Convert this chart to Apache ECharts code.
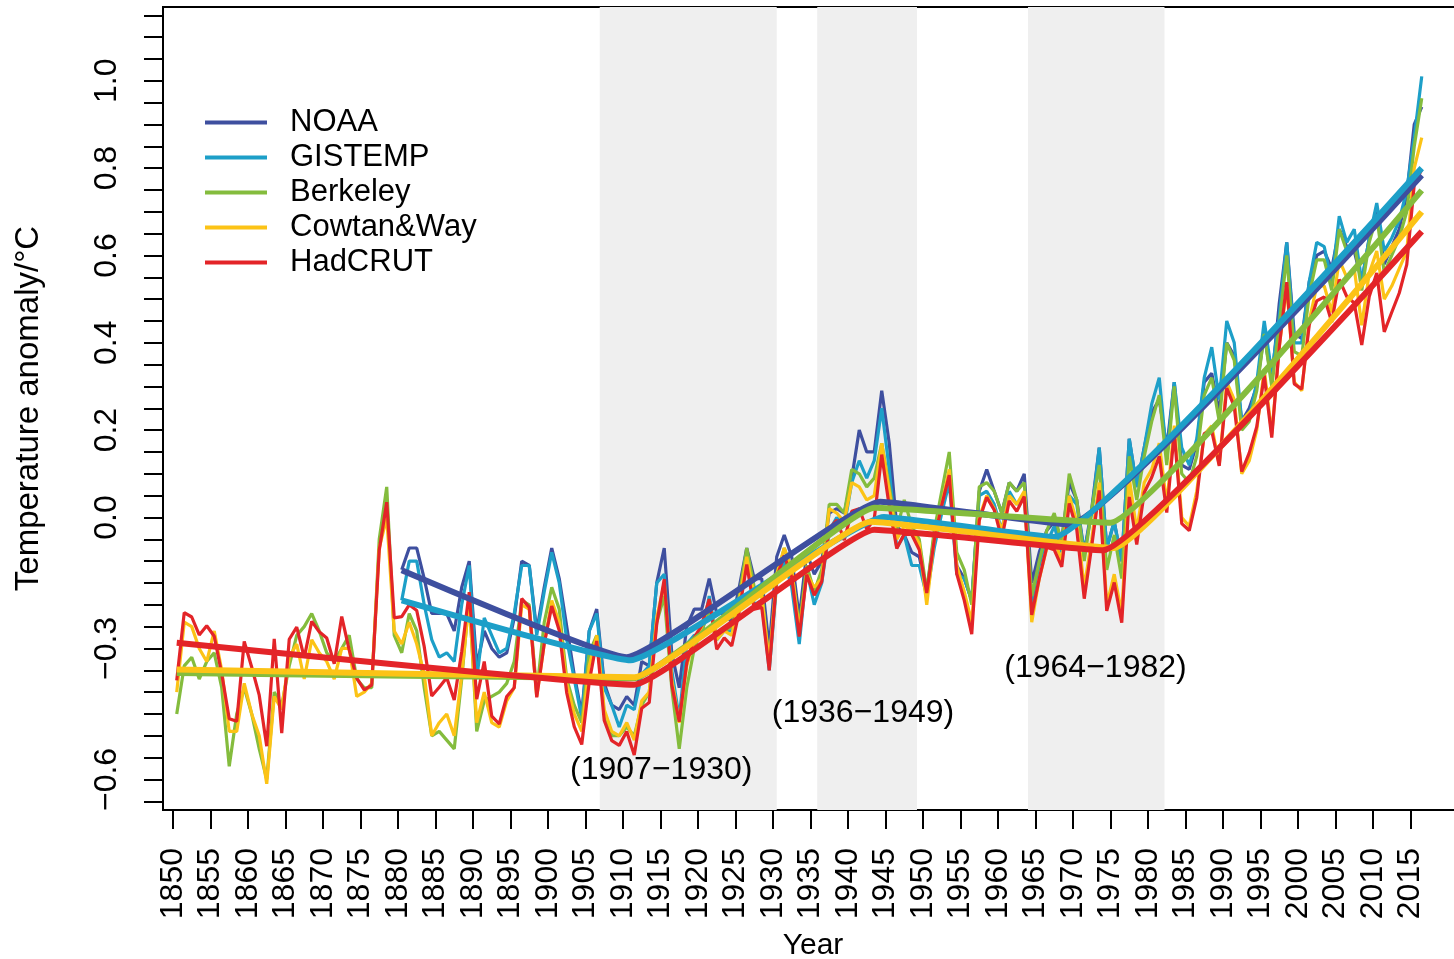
<!DOCTYPE html>
<html>
<head>
<meta charset="utf-8">
<script src="https://cdn.jsdelivr.net/npm/echarts@6/dist/echarts.min.js"></script>
<style>
  html, body { margin: 0; padding: 0; background: #fff; }
  #chart { width: 1454px; height: 959px; }
</style>
</head>
<body>
<div id="chart"></div>
<script>
// annual anomalies, values
const firstYearLong = 1850   // Berkeley, Cowtan&Way, HadCRUT
const firstYearShort = 1880  // NOAA, GISTEMP

const noaa = [
  -0.12, -0.07, -0.07, -0.14, -0.22, -0.22, -0.22, -0.26, -0.16, -0.10,
  -0.34, -0.26, -0.30, -0.32, -0.31, -0.23, -0.10, -0.11, -0.26, -0.16,
  -0.07, -0.14, -0.25, -0.36, -0.45, -0.26, -0.21, -0.38, -0.43, -0.44,
  -0.41, -0.43, -0.33, -0.34, -0.15, -0.07, -0.31, -0.39, -0.25, -0.21,
  -0.21, -0.14, -0.22, -0.22, -0.24, -0.16, -0.07, -0.14, -0.14, -0.30,
  -0.09, -0.04, -0.09, -0.23, -0.08, -0.13, -0.10, 0.01, 0.02, 0.01,
  0.09, 0.20, 0.15, 0.15, 0.29, 0.17, -0.02, -0.04, -0.08, -0.09,
  -0.17, -0.04, 0.03, 0.10, -0.11, -0.14, -0.19, 0.06, 0.11, 0.06,
  0.01, 0.08, 0.06, 0.10, -0.15, -0.08, -0.03, -0.01, -0.05, 0.08,
  0.04, -0.08, 0.02, 0.16, -0.07, -0.01, -0.10, 0.18, 0.07, 0.16,
  0.24, 0.27, 0.16, 0.31, 0.12, 0.11, 0.17, 0.31, 0.33, 0.24,
  0.40, 0.37, 0.22, 0.25, 0.30, 0.42, 0.31, 0.49, 0.63, 0.42,
  0.41, 0.54, 0.60, 0.61, 0.57, 0.66, 0.62, 0.61, 0.54, 0.64,
  0.70, 0.58, 0.62, 0.66, 0.74, 0.90, 0.94
]

const gistemp = [
  -0.19, -0.10, -0.10, -0.20, -0.28, -0.32, -0.31, -0.33, -0.20, -0.11,
  -0.37, -0.23, -0.27, -0.31, -0.30, -0.22, -0.11, -0.11, -0.27, -0.17,
  -0.08, -0.15, -0.28, -0.37, -0.46, -0.26, -0.22, -0.39, -0.43, -0.48,
  -0.43, -0.44, -0.36, -0.34, -0.15, -0.13, -0.35, -0.46, -0.29, -0.27,
  -0.27, -0.18, -0.28, -0.26, -0.26, -0.21, -0.09, -0.20, -0.19, -0.35,
  -0.15, -0.10, -0.16, -0.29, -0.12, -0.20, -0.15, -0.03, 0.00, -0.02,
  0.08, 0.13, 0.09, 0.13, 0.25, 0.11, -0.07, -0.04, -0.11, -0.11,
  -0.18, -0.07, 0.01, 0.08, -0.13, -0.14, -0.19, 0.05, 0.06, 0.03,
  -0.03, 0.06, 0.03, 0.05, -0.20, -0.11, -0.06, -0.02, -0.08, 0.05,
  0.03, -0.08, 0.01, 0.16, -0.07, -0.01, -0.10, 0.18, 0.07, 0.16,
  0.26, 0.32, 0.14, 0.31, 0.16, 0.12, 0.18, 0.32, 0.39, 0.27,
  0.45, 0.40, 0.22, 0.23, 0.31, 0.45, 0.33, 0.46, 0.63, 0.40,
  0.40, 0.54, 0.63, 0.62, 0.54, 0.69, 0.63, 0.66, 0.54, 0.64,
  0.72, 0.61, 0.64, 0.68, 0.75, 0.87, 1.01
]

const berkeley = [
  -0.45, -0.34, -0.32, -0.37, -0.33, -0.31, -0.39, -0.57, -0.45, -0.39,
  -0.45, -0.53, -0.60, -0.40, -0.43, -0.34, -0.27, -0.25, -0.22, -0.26,
  -0.31, -0.33, -0.30, -0.27, -0.37, -0.39, -0.39, -0.05, 0.07, -0.27,
  -0.31, -0.22, -0.26, -0.39, -0.50, -0.49, -0.51, -0.53, -0.37, -0.18,
  -0.49, -0.42, -0.41, -0.40, -0.38, -0.33, -0.19, -0.20, -0.40, -0.24,
  -0.16, -0.21, -0.37, -0.43, -0.47, -0.31, -0.27, -0.45, -0.50, -0.50,
  -0.48, -0.50, -0.43, -0.40, -0.24, -0.18, -0.39, -0.53, -0.39, -0.30,
  -0.26, -0.21, -0.27, -0.26, -0.25, -0.18, -0.07, -0.16, -0.17, -0.34,
  -0.14, -0.07, -0.12, -0.25, -0.11, -0.17, -0.12, 0.03, 0.03, 0.01,
  0.11, 0.10, 0.07, 0.09, 0.17, 0.07, -0.03, 0.04, -0.02, -0.05,
  -0.17, -0.03, 0.06, 0.15, -0.08, -0.12, -0.20, 0.07, 0.08, 0.06,
  0.01, 0.08, 0.06, 0.08, -0.18, -0.10, -0.03, 0.01, -0.06, 0.10,
  0.04, -0.10, 0.02, 0.12, -0.12, -0.04, -0.14, 0.14, 0.04, 0.14,
  0.22, 0.28, 0.12, 0.30, 0.10, 0.08, 0.14, 0.28, 0.32, 0.22,
  0.40, 0.36, 0.20, 0.22, 0.29, 0.42, 0.30, 0.44, 0.60, 0.38,
  0.37, 0.51, 0.59, 0.59, 0.52, 0.66, 0.61, 0.63, 0.52, 0.63,
  0.69, 0.56, 0.60, 0.64, 0.70, 0.85, 0.96
]

const cowtan = [
  -0.40, -0.24, -0.25, -0.30, -0.33, -0.26, -0.35, -0.49, -0.49, -0.38,
  -0.45, -0.50, -0.61, -0.41, -0.44, -0.32, -0.29, -0.37, -0.28, -0.31,
  -0.33, -0.37, -0.30, -0.30, -0.41, -0.40, -0.38, -0.07, 0.00, -0.26,
  -0.29, -0.24, -0.29, -0.36, -0.50, -0.47, -0.45, -0.50, -0.36, -0.19,
  -0.47, -0.40, -0.47, -0.48, -0.42, -0.39, -0.20, -0.21, -0.41, -0.29,
  -0.19, -0.24, -0.38, -0.45, -0.49, -0.34, -0.27, -0.44, -0.49, -0.50,
  -0.47, -0.51, -0.42, -0.40, -0.23, -0.15, -0.37, -0.47, -0.34, -0.28,
  -0.25, -0.19, -0.28, -0.26, -0.27, -0.19, -0.09, -0.18, -0.18, -0.33,
  -0.13, -0.07, -0.12, -0.26, -0.13, -0.16, -0.14, 0.02, 0.01, -0.01,
  0.08, 0.07, 0.04, 0.05, 0.17, 0.06, -0.05, -0.02, -0.03, -0.06,
  -0.20, -0.05, 0.03, 0.11, -0.11, -0.17, -0.24, 0.00, 0.05, 0.02,
  -0.03, 0.05, 0.03, 0.06, -0.24, -0.14, -0.07, -0.05, -0.10, 0.05,
  -0.01, -0.16, -0.05, 0.08, -0.20, -0.13, -0.22, 0.09, -0.03, 0.08,
  0.11, 0.17, 0.03, 0.21, 0.00, -0.02, 0.06, 0.19, 0.21, 0.12,
  0.31, 0.27, 0.10, 0.13, 0.20, 0.34, 0.19, 0.39, 0.53, 0.31,
  0.29, 0.45, 0.53, 0.53, 0.47, 0.59, 0.55, 0.57, 0.44, 0.56,
  0.61, 0.50, 0.53, 0.57, 0.61, 0.80, 0.87
]

const hadcrut = [
  -0.373, -0.218, -0.228, -0.269, -0.248, -0.272, -0.358, -0.461, -0.467, -0.284,
  -0.343, -0.407, -0.524, -0.278, -0.494, -0.279, -0.251, -0.321, -0.238, -0.262,
  -0.276, -0.335, -0.227, -0.304, -0.368, -0.395, -0.384, -0.075, 0.035, -0.230,
  -0.227, -0.200, -0.213, -0.296, -0.409, -0.389, -0.367, -0.418, -0.307, -0.171,
  -0.416, -0.330, -0.455, -0.473, -0.410, -0.390, -0.186, -0.206, -0.412, -0.289,
  -0.203, -0.259, -0.402, -0.479, -0.520, -0.377, -0.283, -0.465, -0.511, -0.522,
  -0.490, -0.544, -0.437, -0.424, -0.244, -0.141, -0.383, -0.468, -0.333, -0.275,
  -0.247, -0.187, -0.302, -0.276, -0.294, -0.215, -0.108, -0.210, -0.206, -0.350,
  -0.137, -0.087, -0.137, -0.273, -0.131, -0.178, -0.147, -0.026, -0.006, -0.052,
  0.014, 0.020, -0.027, -0.004, 0.144, 0.025, -0.071, -0.038, -0.039, -0.074,
  -0.173, -0.052, 0.028, 0.097, -0.129, -0.190, -0.267, -0.007, 0.046, 0.017,
  -0.049, 0.038, 0.014, 0.048, -0.223, -0.140, -0.068, -0.074, -0.113, 0.032,
  -0.027, -0.186, -0.065, 0.062, -0.214, -0.149, -0.241, 0.047, -0.062, 0.057,
  0.092, 0.140, 0.011, 0.194, -0.014, -0.030, 0.045, 0.192, 0.198, 0.118,
  0.296, 0.254, 0.105, 0.148, 0.208, 0.325, 0.183, 0.390, 0.539, 0.306,
  0.294, 0.441, 0.496, 0.505, 0.447, 0.545, 0.506, 0.491, 0.395, 0.506,
  0.560, 0.425, 0.470, 0.514, 0.579, 0.763, 0.797
]

// trends: [time, anomaly] at the change points
const noaaTrend = [[1880.5, -0.121], [1910.5, -0.320], [1944.3, 0.036], [1969.5, -0.016], [2016.5, 0.784]]
const gistempTrend = [[1880.5, -0.190], [1911.0, -0.327], [1944.8, 0.001], [1967.5, -0.045], [2016.5, 0.800]]
const berkeleyTrend = [[1850.5, -0.356], [1911.5, -0.368], [1943.5, 0.022], [1975.0, -0.012], [2016.5, 0.749]]
const cowtanTrend = [[1850.5, -0.348], [1911.5, -0.366], [1943.0, -0.010], [1975.5, -0.070], [2016.5, 0.700]]
const hadcrutTrend = [[1850.5, -0.287], [1911.5, -0.383], [1943.5, -0.028], [1974.0, -0.075], [2016.5, 0.655]]

const names = ['NOAA', 'GISTEMP', 'Berkeley', 'Cowtan&Way', 'HadCRUT']
const colors = ['#3e4f9f', '#1d9fc8', '#84bc3d', '#fcc316', '#e32428']

// change point ranges
const bands = [[1906.9, 1930.5], [1935.9, 1949.2], [1964.0, 1982.2]]
const bandLabels = ['(1907\u22121930)', '(1936\u22121949)', '(1964\u22121982)']
const bandLabelPos = [[1915.1, -0.579], [1942.0, -0.448], [1973.0, -0.345]]

const xTickYears = [1850, 1855, 1860, 1865, 1870, 1875, 1880, 1885, 1890, 1895, 1900, 1905,
  1910, 1915, 1920, 1925, 1930, 1935, 1940, 1945, 1950, 1955, 1960, 1965, 1970, 1975,
  1980, 1985, 1990, 1995, 2000, 2005, 2010, 2015]
const yLabelValues = [-0.6, -0.3, 0, 0.2, 0.4, 0.6, 0.8, 1.0]

const yTickValues = []
for (let k = -13; k <= 23; k++) yTickValues.push(Math.round(k * 5) / 100)

const font = "'Liberation Sans', Arial, Helvetica, sans-serif"

const toPoints = (values, start) => values.map((v, i) => [start + i + 0.5, v])

const annual = [
  toPoints(noaa, firstYearShort),
  toPoints(gistemp, firstYearShort),
  toPoints(berkeley, firstYearLong),
  toPoints(cowtan, firstYearLong),
  toPoints(hadcrut, firstYearLong),
]
const trends = [noaaTrend, gistempTrend, berkeleyTrend, cowtanTrend, hadcrutTrend]

const series = [
  {
    type: 'line',
    name: 'bands',
    data: [],
    z: 1,
    silent: true,
    markArea: {
      silent: true,
      itemStyle: { color: '#efefef' },
      data: bands.map(b => [{ xAxis: b[0] }, { xAxis: b[1] }]),
    },
  },
]

annual.forEach((pts, i) => {
  series.push({
    type: 'line',
    name: names[i],
    data: pts,
    symbol: 'none',
    z: 2,
    itemStyle: { color: colors[i] },
    lineStyle: { color: colors[i], width: 3.2 },
  })
})

trends.forEach((pts, i) => {
  series.push({
    type: 'line',
    name: names[i],
    data: pts,
    symbol: 'none',
    smooth: 0.1,
    smoothMonotone: 'x',
    z: 3,
    itemStyle: { color: colors[i] },
    lineStyle: { color: colors[i], width: 6, join: 'round' },
  })
})

series.push({
  type: 'scatter',
  name: 'labels',
  data: bandLabelPos,
  symbolSize: 0,
  z: 4,
  silent: true,
  label: {
    show: true,
    position: 'inside',
    formatter: p => bandLabels[p.dataIndex],
    fontSize: 32,
    fontFamily: font,
    color: '#000',
    textBorderWidth: 0,
    opacity: 1,
  },
})

const chart = echarts.init(document.getElementById('chart'), null, { renderer: 'canvas' })

chart.setOption({
  animation: false,
  backgroundColor: '#fff',
  grid: {
    left: 163,
    top: 7,
    width: 1300,
    height: 803,
    outerBoundsMode: 'none',
    containLabel: false,
    show: true,
    borderColor: '#000',
    borderWidth: 2,
    backgroundColor: 'transparent',
  },
  legend: {
    data: names,
    orient: 'vertical',
    left: 200,
    top: 102,
    icon: 'rect',
    itemWidth: 62,
    itemHeight: 4,
    itemGap: 4,
    selectedMode: false,
    textStyle: {
      fontSize: 31,
      lineHeight: 31,
      fontFamily: font,
      color: '#000',
      padding: [0, 0, 0, 18],
    },
  },
  xAxis: {
    type: 'value',
    min: 1848.67,
    max: 2022,
    name: 'Year',
    nameLocation: 'middle',
    nameGap: 121,
    nameTextStyle: { fontSize: 30, fontFamily: font, color: '#000' },
    axisLine: { show: true, onZero: false, lineStyle: { color: '#000', width: 2 } },
    axisTick: { show: true, customValues: xTickYears, length: 19, lineStyle: { color: '#000', width: 2 } },
    axisLabel: {
      customValues: xTickYears,
      rotate: 90,
      margin: 38,
      fontSize: 32,
      fontFamily: font,
      color: '#000',
      formatter: v => String(v),
    },
    splitLine: { show: false },
  },
  yAxis: {
    type: 'value',
    min: -0.67,
    max: 1.169,
    name: 'Temperature anomaly/\u00b0C',
    nameLocation: 'middle',
    nameRotate: 90,
    nameGap: 118,
    nameTextStyle: { fontSize: 33, fontFamily: font, color: '#000' },
    axisLine: { show: true, onZero: false, lineStyle: { color: '#000', width: 2 } },
    axisTick: { show: true, customValues: yTickValues, length: 19, lineStyle: { color: '#000', width: 2 } },
    axisLabel: {
      customValues: yLabelValues,
      rotate: 90,
      margin: 40,
      fontSize: 32,
      fontFamily: font,
      color: '#000',
      formatter: v => v.toFixed(1).replace('-', '\u2212'),
    },
    splitLine: { show: false },
  },
  series: series,
})
</script>
</body>
</html>
